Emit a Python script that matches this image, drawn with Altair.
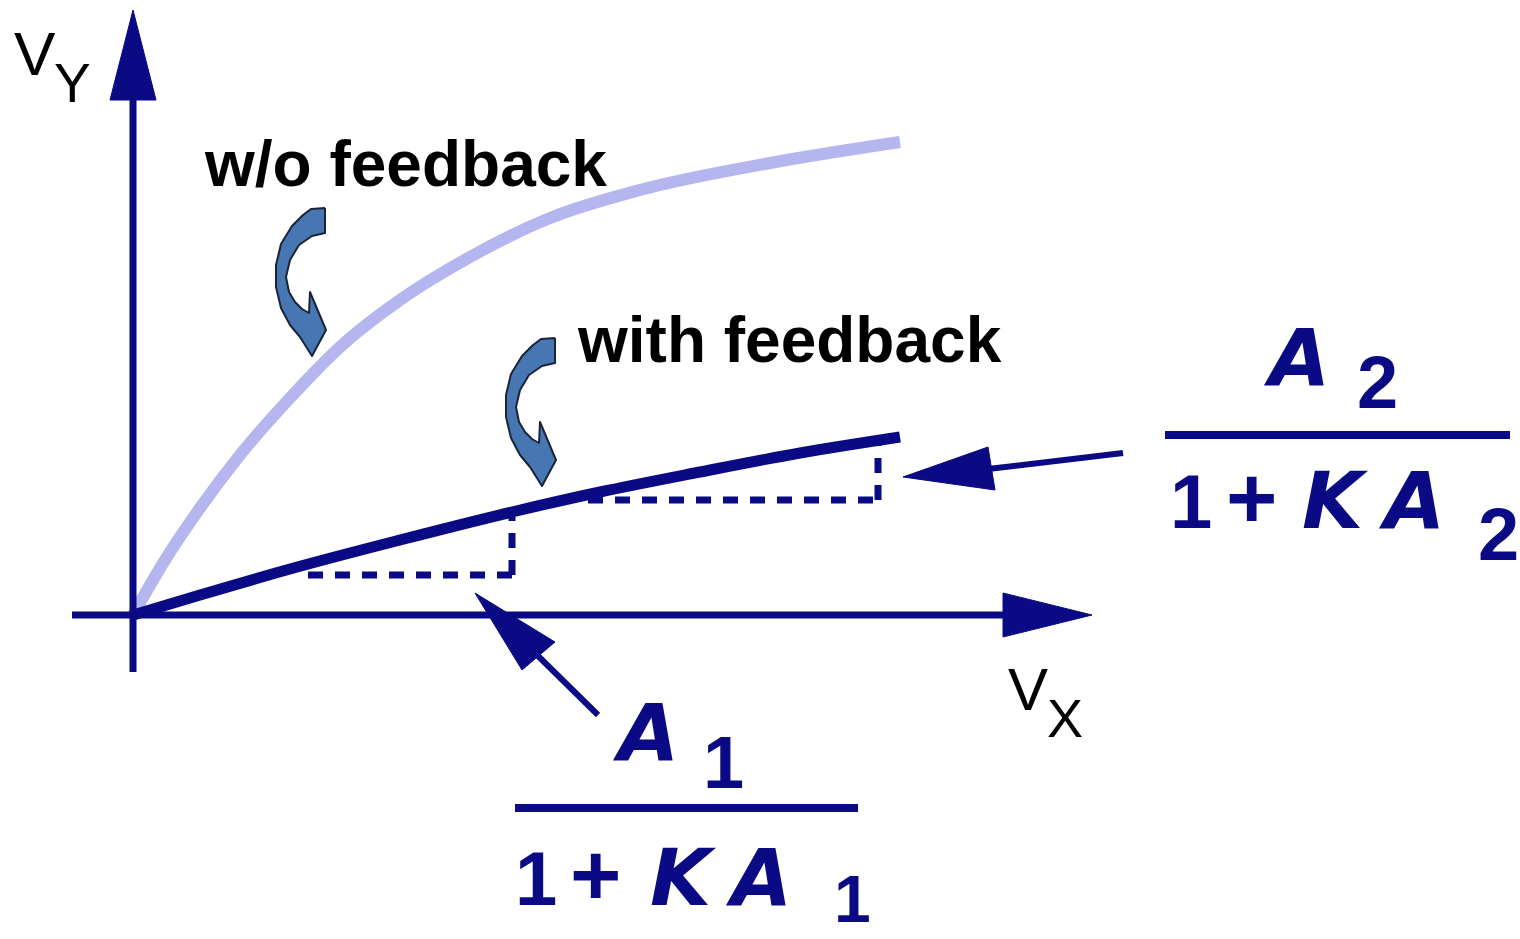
import altair as alt
import pandas as pd

NAVY = "#0a0a84"
LAVENDER = "#b5b5f0"
CURL_FILL = "#4677b2"
CURL_EDGE = "#1a2438"

# Plot frame: origin at the axis crossing, one unit per pixel, y upwards
X_DOMAIN = [-133, 1387]
Y_DOMAIN = [-324, 615]

# Transfer curves (Vx -> Vy)
open_loop_vx = [0, 32, 67, 107, 157, 207, 267, 337, 417, 507, 637, 767]
open_loop_vy = [0, 55, 107, 160, 217, 268, 315, 358, 397, 425, 452, 473]
closed_loop_vx = [0, 67, 157, 267, 379, 467, 567, 667, 767]
closed_loop_vy = [0, 20, 46, 75, 103, 123, 143, 162, 178]

# Straight segments: (x, y, x2, y2)
axis_segments = [(0, -57, 0, 520), (-61, 0, 875, 0)]
pointer_segments = [(855, 146, 990, 162), (400, -36, 465, -100)]
slope_dashes = [(175, 40, 379, 40), (379, 40, 379, 98),
                (455, 115, 745, 115), (745, 115, 745, 172)]
fraction_bars = [(1032, 180, 1377, 180), (382, -193, 725, -193)]

# Filled arrowheads (triangles)
arrowheads = {
    "vy_axis": [(0, 605), (-23, 515), (23, 515)],
    "vx_axis": [(959, 0), (870, 22), (870, -22)],
    "gain2": [(770, 138), (855, 168), (862, 125)],
    "gain1": [(342, 22), (422, -27), (389, -55)],
}

# Curled callout arrow outline, and where each copy sits
curl_outline = [
    (192, 407), (192, 382), (179, 379), (166, 370), (157, 355), (153, 338),
    (156, 323), (162, 313), (169, 306), (176, 302), (177, 323), (193, 285),
    (179, 259), (167, 278), (157, 290), (148, 307), (143, 328), (143, 350),
    (148, 371), (159, 389), (170, 400), (178, 406),
]
curl_offsets = {"open_loop": (0, 0), "closed_loop": (230, -130)}

# Text: (label, x, y, font size)
captions = [("w/o feedback", 72, 429, 64), ("with feedback", 445, 253, 64)]
axis_names = [("V", -119, 540, 62), ("Y", -79, 513, 55),
              ("V", 875, -95, 60), ("X", 914, -122, 54)]
formula_upright = [("2", 1224, 207, 74), ("1", 1037, 87, 76), ("+", 1093, 87, 88),
                   ("2", 1345, 55, 74),
                   ("1", 570, -173, 74), ("1", 382, -290, 76), ("+", 437, -290, 88),
                   ("1", 701, -307, 66)]
formula_italic = [("A", 1136, 230, 79), ("K", 1169, 87, 79), ("A", 1251, 87, 79),
                  ("A", 485, -145, 79), ("K", 517, -290, 79), ("A", 598, -290, 79)]

xs = alt.Scale(domain=X_DOMAIN, nice=False, zero=False)
ys = alt.Scale(domain=Y_DOMAIN, nice=False, zero=False)


def X(field="x"):
    return alt.X(f"{field}:Q", scale=xs, axis=None)


def Y(field="y"):
    return alt.Y(f"{field}:Q", scale=ys, axis=None)


def curve(vx, vy, color, width):
    df = pd.DataFrame({"x": vx, "y": vy, "i": range(len(vx))})
    return alt.Chart(df).mark_line(color=color, strokeWidth=width, strokeCap="butt",
                                   interpolate="monotone").encode(
        x=X(), y=Y(), order="i:Q")


def segments(rows, width, dash=None, cap="butt"):
    df = pd.DataFrame(rows, columns=["x", "y", "x2", "y2"])
    kw = dict(color=NAVY, strokeWidth=width, strokeCap=cap)
    if dash:
        kw["strokeDash"] = dash
    return alt.Chart(df).mark_rule(**kw).encode(
        x=X(), y=Y(), x2="x2:Q", y2="y2:Q")


def polygons(shapes, fill, stroke, width):
    rows = []
    for name, pts in shapes.items():
        closed = list(pts) + [pts[0]]
        for i, (px, py) in enumerate(closed):
            rows.append({"shape": name, "i": i, "x": px, "y": py})
    df = pd.DataFrame(rows)
    return alt.Chart(df).mark_line(fill=fill, stroke=stroke, strokeWidth=width,
                                   strokeJoin="round").encode(
        x=X(), y=Y(), order="i:Q", detail="shape:N")


def texts(rows, color, weight, style="normal", font="Liberation Sans"):
    df = pd.DataFrame(rows, columns=["label", "x", "y", "fs"])
    return alt.Chart(df).mark_text(align="left", baseline="alphabetic", color=color,
                                   font=font, fontWeight=weight, fontStyle=style).encode(
        x=X(), y=Y(), text="label:N", size=alt.Size("fs:Q", scale=None, legend=None))


curls = {}
for name, (dx, dy) in curl_offsets.items():
    curls[name] = [(px + dx, py + dy) for px, py in curl_outline]

chart = alt.layer(
    curve(open_loop_vx, open_loop_vy, LAVENDER, 12),
    segments(slope_dashes, 7, dash=[15, 12]),
    segments(axis_segments, 7),
    curve(closed_loop_vx, closed_loop_vy, NAVY, 11),
    segments(pointer_segments, 6),
    segments(fraction_bars, 8),
    polygons(arrowheads, NAVY, NAVY, 1),
    polygons(curls, CURL_FILL, CURL_EDGE, 2),
    texts(captions, "#000000", "bold"),
    texts(axis_names, "#000000", "normal"),
    texts(formula_upright, NAVY, "bold"),
    texts(formula_italic, NAVY, "bold", style="italic", font="DejaVu Sans"),
).properties(
    width=1520, height=939, padding=0, autosize="none", background="white"
).configure_view(stroke=None)

chart.save("out.html", embed_options={"renderer": "svg", "actions": False})
